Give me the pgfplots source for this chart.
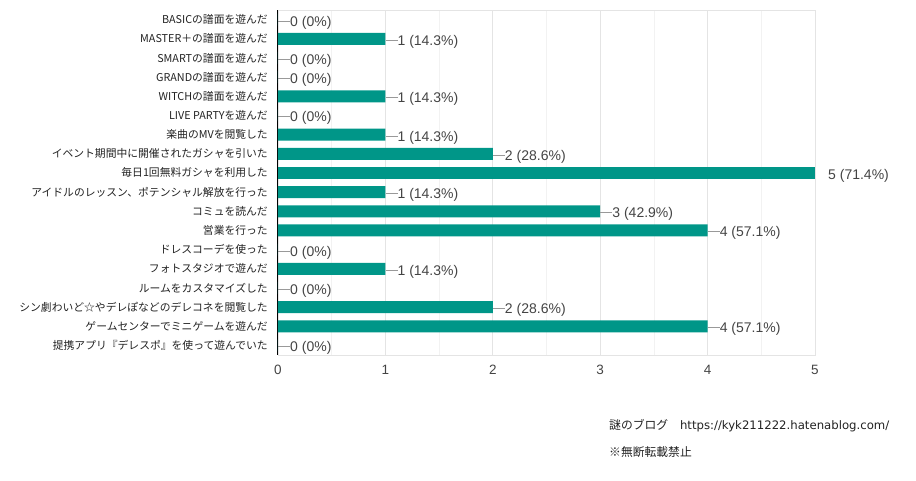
\documentclass[border=0pt]{standalone}
\usepackage{pgfplots}
\pgfplotsset{compat=1.18}
\usepackage{fontspec}
\newfontfamily\jp{Noto Sans CJK JP}
\newfontfamily\arial{Liberation Sans}
\newfontfamily\dv{DejaVu Sans}
\definecolor{barc}{RGB}{0,150,136}
\definecolor{lbl}{RGB}{68,68,68}
\definecolor{conn}{RGB}{153,153,153}
\definecolor{gridc}{RGB}{228,228,228}
\definecolor{gridm}{RGB}{242,242,242}
\definecolor{txt}{RGB}{34,34,34}
\pgfplotstableread{
r v p
0 0 0
1 1 14.3
2 0 0
3 0 0
4 1 14.3
5 0 0
6 1 14.3
7 2 28.6
9 1 14.3
10 3 42.9
11 4 57.1
12 0 0
13 1 14.3
14 0 0
15 2 28.6
16 4 57.1
17 0 0
}\maindata
\pgfplotstableread{
r v p
8 5 71.4
}\topdata
\begin{document}
\begin{tikzpicture}
\useasboundingbox (0,0) rectangle (916pt,480pt);
\begin{axis}[
 at={(278pt,125pt)}, anchor=south west,
 width=537pt, height=345pt, scale only axis,
 xbar, bar width=12pt, bar shift=0pt,
 xmin=0, xmax=5, ymin=-0.5, ymax=17.5, y dir=reverse,
 xtick={0,...,5}, minor x tick num=1,
 xmajorgrids, xminorgrids,
 major grid style={draw=gridc, line width=0.8pt},
 minor grid style={draw=gridm, line width=0.8pt},
 axis line style={draw=gridc, line width=0.8pt},
 major tick length=0pt, minor tick length=0pt,
 ytick={0,...,17},
 yticklabels={BASICの譜面を遊んだ,MASTER＋の譜面を遊んだ,SMARTの譜面を遊んだ,GRANDの譜面を遊んだ,WITCHの譜面を遊んだ,LIVE PARTYを遊んだ,楽曲のMVを閲覧した,イベント期間中に開催されたガシャを引いた,毎日1回無料ガシャを利用した,アイドルのレッスン、ポテンシャル解放を行った,コミュを読んだ,営業を行った,ドレスコーデを使った,フォトスタジオで遊んだ,ルームをカスタマイズした,シン劇わいど☆やデレぽなどのデレコネを閲覧した,ゲームセンターでミニゲームを遊んだ,提携アプリ『デレスポ』を使って遊んでいた},
 yticklabel style={font=\jp\fontsize{10.8}{12}\selectfont, text=txt, anchor=east, inner sep=0pt, xshift=-10pt},
 xticklabel style={font=\arial\fontsize{13.5}{14}\selectfont, text=lbl, anchor=north, inner sep=0pt, yshift=-10pt},
 /pgf/number format/assume math mode=true,
 extra x ticks={0}, extra x tick labels={},
 extra x tick style={grid=major, major grid style={draw=black, line width=1pt}},
 nodes near coords style={anchor=west, inner sep=0pt, yshift=-3pt, font=\arial\fontsize{14}{14}\selectfont, text=lbl, text height=10pt, text depth=3pt},
]
\addplot[fill=barc, draw=none, point meta=explicit symbolic,
  visualization depends on={x\as\vx},
  nodes near coords={\textcolor{conn}{\rule[4.5pt]{12pt}{1pt}}\pgfmathprintnumber{\vx} (\pgfplotspointmeta\%)}]
  table[x=v, y=r, meta=p] {\maindata};
\addplot[fill=barc, draw=none, point meta=explicit symbolic,
  visualization depends on={x\as\vx},
  nodes near coords={\hspace{13pt}\pgfmathprintnumber{\vx} (\pgfplotspointmeta\%)}]
  table[x=v, y=r, meta=p] {\topdata};
\end{axis}
\node[anchor=west, inner sep=0pt, text=txt] at (609pt,54pt) {{\jp\fontsize{11.8}{13}\selectfont 謎のブログ　}{\dv\fontsize{11.7}{13}\selectfont https://kyk211222.hatenablog.com/}};
\node[anchor=west, inner sep=0pt, text=txt] at (609pt,28pt) {\jp\fontsize{11.8}{13}\selectfont ※無断転載禁止};
\end{tikzpicture}
\end{document}
